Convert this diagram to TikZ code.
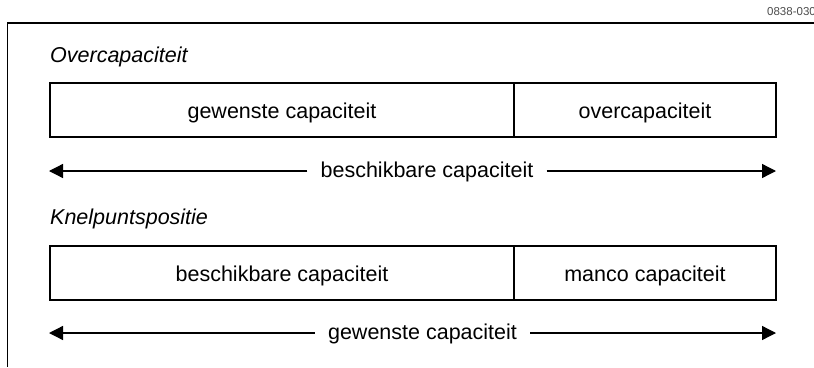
\documentclass[tikz,border=0pt]{standalone}
\usepackage{fontspec}
\setmainfont{Liberation Sans}
\usetikzlibrary{arrows.meta}
\begin{document}
\begin{tikzpicture}[x=1pt,y=-1pt,
  ln/.style={line width=1.3pt},
  part/.style={draw, ln, inner sep=0pt, outer sep=0pt, minimum height=54pt, text height=16pt, text depth=0pt, font=\fontsize{21.5}{25}\selectfont},
  head/.style={anchor=base west, inner sep=0pt, font=\fontsize{21.5}{25}\selectfont\itshape},
  arrlabel/.style={inner xsep=13pt, inner ysep=0pt, text height=12pt, text depth=0pt, font=\fontsize{21.5}{25}\selectfont},
  arr/.style={ln, -{Triangle[length=14pt,width=14pt]}}]
\useasboundingbox (0,0) rectangle (814,367);
% frame
\coordinate (ftr) at (814,23);
\coordinate (ftl) at (7.5,23);
\coordinate (fbl) at (7.5,367);
\draw[ln] (ftr) -- (ftl) -- (fbl);
\node[anchor=base west, inner sep=0pt, font=\fontsize{11.5}{13}\selectfont, text=black!70] (code) at (767,15) {0838-030};
% headings
\node[head] (h1) at (50,62) {Overcapaciteit};
\node[head] (h2) at (50,224) {Knelpuntspositie};
% boxes
\node[part, minimum width=464pt] (b1l) at (282,110) {gewenste capaciteit};
\node[part, minimum width=262pt] (b1r) at (645,110) {overcapaciteit};
\node[part, minimum width=464pt] (b2l) at (282,273) {beschikbare capaciteit};
\node[part, minimum width=262pt] (b2r) at (645,273) {manco capaciteit};
% arrows
\coordinate (a1l) at (49,171);
\coordinate (a1r) at (776,171);
\node[arrlabel] (l1) at (427,171) {beschikbare capaciteit};
\draw[arr] (l1.west) -- (a1l);
\draw[arr] (l1.east) -- (a1r);
\coordinate (a2l) at (49,333);
\coordinate (a2r) at (776,333);
\node[arrlabel] (l2) at (422.5,333) {gewenste capaciteit};
\draw[arr] (l2.west) -- (a2l);
\draw[arr] (l2.east) -- (a2r);
\end{tikzpicture}
\end{document}
